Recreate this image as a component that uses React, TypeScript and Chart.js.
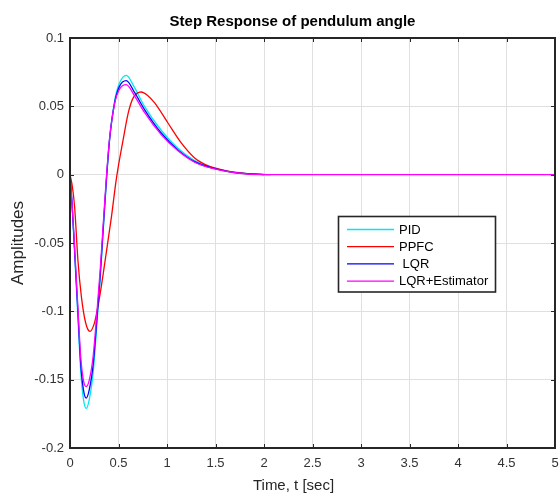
import React, { useEffect, useRef } from "react";
import { Chart, registerables } from "chart.js";

Chart.register(...registerables);

const chartTitle = "Step Response of pendulum angle";
const xAxisLabel = "Time, t [sec]";
const yAxisLabel = "Amplitudes";

const xTicks = [0, 0.5, 1, 1.5, 2, 2.5, 3, 3.5, 4, 4.5, 5];
const xTickLabels = ["0", "0.5", "1", "1.5", "2", "2.5", "3", "3.5", "4", "4.5", "5"];
const yTicks = [-0.2, -0.15, -0.1, -0.05, 0, 0.05, 0.1];
const yTickLabels = ["-0.2", "-0.15", "-0.1", "-0.05", "0", "0.05", "0.1"];

const seriesNames = ["PID", "PPFC", " LQR", "LQR+Estimator"];
const seriesColors = ["#00e8f0", "#ff0000", "#0000ff", "#ff00ff"];

// time grid shared by PID / LQR / LQR+Estimator
const tFast = [0, 0.02, 0.04, 0.06, 0.082, 0.11, 0.14, 0.168, 0.2, 0.24, 0.278, 0.31, 0.34, 0.374, 0.408, 0.46, 0.51, 0.58, 0.667, 0.768, 0.94, 1.11, 1.28, 1.46, 1.7, 2.0];
const yPID = [0, -0.021, -0.047, -0.075, -0.105, -0.143, -0.165, -0.171, -0.164, -0.144, -0.109, -0.078, -0.044, -0.006, 0.026, 0.054, 0.067, 0.0727, 0.0635, 0.05, 0.0325, 0.0195, 0.0105, 0.0053, 0.0016, 0];
const yLQR = [0, -0.02, -0.045, -0.072, -0.101, -0.138, -0.158, -0.1635, -0.157, -0.138, -0.105, -0.075, -0.042, -0.005, 0.0256, 0.0525, 0.0646, 0.0688, 0.06, 0.0476, 0.0305, 0.0183, 0.0097, 0.0049, 0.0015, 0];
const tEst = [0, 0.02, 0.04, 0.06, 0.082, 0.11, 0.14, 0.168, 0.2, 0.24, 0.278, 0.31, 0.34, 0.374, 0.408, 0.46, 0.51, 0.58, 0.667, 0.768, 0.94, 1.11, 1.28, 1.46, 1.7, 2.0, 5.0];
const yEst = [0, -0.02, -0.044, -0.07, -0.098, -0.133, -0.151, -0.155, -0.15, -0.132, -0.1, -0.071, -0.039, -0.003, 0.0265, 0.052, 0.0625, 0.0659, 0.0575, 0.0455, 0.0293, 0.0176, 0.0093, 0.0047, 0.0014, 0, 0];
const tPPFC = [0, 0.025, 0.048, 0.082, 0.117, 0.16, 0.205, 0.25, 0.278, 0.32, 0.374, 0.425, 0.48, 0.548, 0.6, 0.65, 0.733, 0.8, 0.873, 1.01, 1.147, 1.285, 1.42, 1.6, 1.8, 2.07];
const yPPFC = [0, -0.009, -0.024, -0.063, -0.089, -0.108, -0.1147, -0.109, -0.1, -0.083, -0.057, -0.032, -0.002, 0.0256, 0.045, 0.056, 0.0605, 0.058, 0.0525, 0.0378, 0.0232, 0.0122, 0.0066, 0.003, 0.001, 0];

const seriesT = [tFast, tPPFC, tFast, tEst];
const seriesY = [yPID, yPPFC, yLQR, yEst];
const seriesOrder = [3, 2, 1, 0];

const FONT = "Arial, 'Liberation Sans', Helvetica, sans-serif";
const AXIS_COLOR = "#262626";

const labelFor = (vals: number[], labels: string[], v: number) => {
  const i = vals.findIndex((t) => Math.abs(t - v) < 1e-9);
  return i >= 0 ? labels[i] : "";
};

const decorPlugin = {
  id: "matlabDecor",
  afterDatasetsDraw(chart: any) {
    const { ctx, chartArea } = chart;
    const { left, right, top, bottom } = chartArea;
    const xs = chart.scales.x;
    const ys = chart.scales.y;
    ctx.save();
    // inward ticks
    ctx.strokeStyle = AXIS_COLOR;
    ctx.lineWidth = 1;
    ctx.beginPath();
    xTicks.forEach((v) => {
      const px = Math.round(xs.getPixelForValue(v)) + 0.5;
      ctx.moveTo(px, bottom);
      ctx.lineTo(px, bottom - 4);
      ctx.moveTo(px, top);
      ctx.lineTo(px, top + 4);
    });
    yTicks.forEach((v) => {
      const py = Math.round(ys.getPixelForValue(v)) + 0.5;
      ctx.moveTo(left, py);
      ctx.lineTo(left + 4, py);
      ctx.moveTo(right, py);
      ctx.lineTo(right - 4, py);
    });
    ctx.stroke();
    // box
    ctx.lineWidth = 2;
    ctx.strokeRect(left, top, right - left, bottom - top);

    // legend
    const lx = 338.5, ly = 216.5, lw = 157, lh = 75.5;
    ctx.fillStyle = "#ffffff";
    ctx.fillRect(lx, ly, lw, lh);
    ctx.lineWidth = 1.6;
    ctx.strokeStyle = AXIS_COLOR;
    ctx.strokeRect(lx, ly, lw, lh);
    ctx.font = `13px ${FONT}`;
    ctx.textBaseline = "middle";
    ctx.textAlign = "left";
    chart.data.datasets.forEach((ds: any, i: number) => {
      const y = 229.5 + i * 17.2;
      ctx.strokeStyle = ds.borderColor;
      ctx.lineWidth = 1.3;
      ctx.beginPath();
      ctx.moveTo(347, y);
      ctx.lineTo(394, y);
      ctx.stroke();
      ctx.fillStyle = "#000000";
      ctx.fillText(ds.label, 399, y + 0.5);
    });

    // chart title and x-axis title
    ctx.fillStyle = "#000000";
    ctx.textAlign = "center";
    ctx.font = `bold 15px ${FONT}`;
    ctx.fillText(chartTitle, 292.5, 22);
    ctx.fillStyle = AXIS_COLOR;
    ctx.font = `15px ${FONT}`;
    ctx.fillText(xAxisLabel, 293.5, 486);
    ctx.restore();
  },
};

export default function App() {
  const canvasRef = useRef<HTMLCanvasElement | null>(null);

  useEffect(() => {
    if (!canvasRef.current) return;
    const datasets = seriesNames.map((name, i) => ({
      label: name,
      data: seriesT[i].map((t, j) => ({ x: t, y: seriesY[i][j] })),
      borderColor: seriesColors[i],
      backgroundColor: seriesColors[i],
      borderWidth: 1.3,
      pointRadius: 0,
      fill: false,
      cubicInterpolationMode: "monotone" as const,
      order: seriesOrder[i],
    }));

    const chart = new Chart(canvasRef.current, {
      type: "line",
      data: { datasets },
      options: {
        animation: false,
        responsive: true,
        maintainAspectRatio: false,
        parsing: false,
        layout: { padding: { top: 38, left: 0, right: 4, bottom: 0 } },
        plugins: {
          legend: { display: false },
          title: { display: false },
          tooltip: { enabled: false },
        },
        scales: {
          x: {
            type: "linear",
            min: 0,
            max: 5,
            afterBuildTicks: (axis: any) => {
              axis.ticks = xTicks.map((v) => ({ value: v }));
            },
            afterFit: (axis: any) => {
              axis.height = 50;
              axis.paddingLeft = 0;
              axis.paddingRight = 0;
            },
            ticks: {
              callback: (v: any) => labelFor(xTicks, xTickLabels, Number(v)),
              color: "#333333",
              font: { family: FONT, size: 13 },
              padding: 8,
              maxRotation: 0,
              autoSkip: false,
            },
            grid: { color: "#e0e0e0", lineWidth: 1, drawTicks: false },
            border: { display: true, color: AXIS_COLOR, width: 2 },
            title: { display: false, text: xAxisLabel },
          },
          y: {
            type: "linear",
            min: -0.2,
            max: 0.1,
            afterBuildTicks: (axis: any) => {
              axis.ticks = yTicks.map((v) => ({ value: v }));
            },
            afterFit: (axis: any) => {
              axis.width = 70;
              axis.paddingTop = 0;
              axis.paddingBottom = 0;
            },
            ticks: {
              callback: (v: any) => labelFor(yTicks, yTickLabels, Number(v)),
              color: "#333333",
              font: { family: FONT, size: 13 },
              padding: 6,
              autoSkip: false,
            },
            grid: { color: "#e0e0e0", lineWidth: 1, drawTicks: false },
            border: { display: true, color: AXIS_COLOR, width: 2 },
            title: {
              display: true,
              text: yAxisLabel,
              color: AXIS_COLOR,
              font: { family: FONT, size: 17 },
              padding: { top: 8, bottom: 0 },
            },
          },
        },
      },
      plugins: [decorPlugin],
    });
    return () => chart.destroy();
  }, []);

  return (
    <div style={{ position: "fixed", left: 0, top: 0, width: 559, height: 498, background: "#ffffff" }}>
      <canvas ref={canvasRef} />
    </div>
  );
}
